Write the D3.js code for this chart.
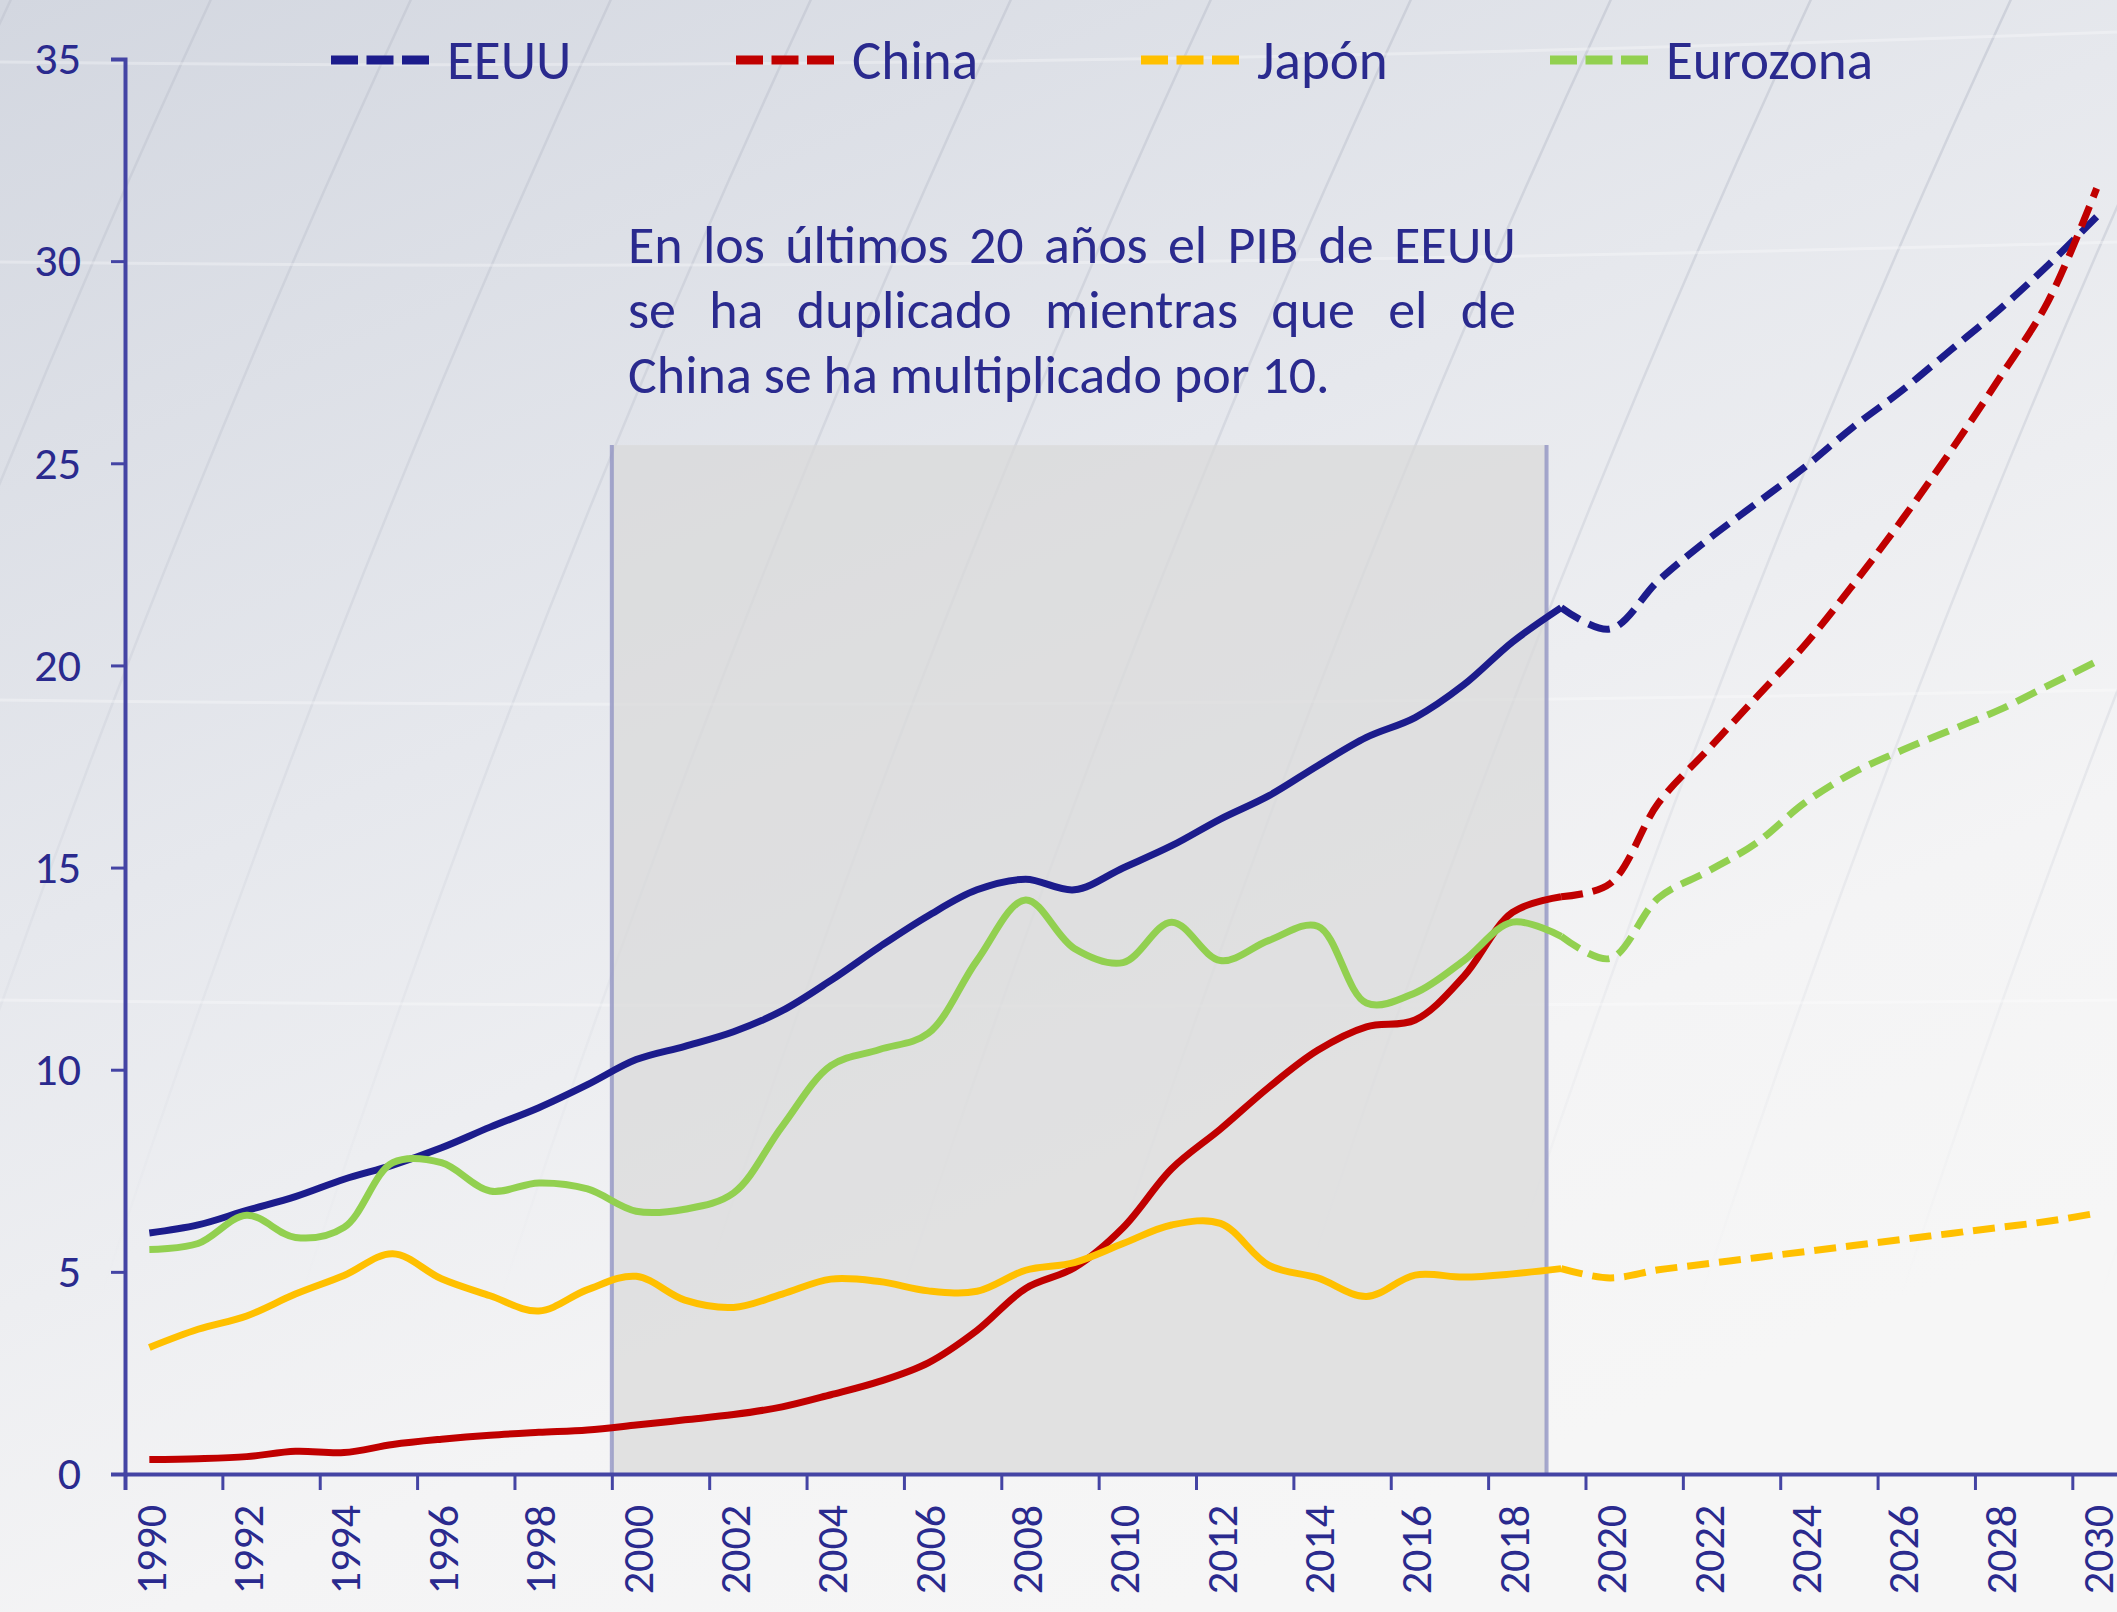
<!DOCTYPE html>
<html>
<head>
<meta charset="utf-8">
<script src="https://cdn.jsdelivr.net/npm/d3@7/dist/d3.min.js"></script>
<style>
  html, body { margin: 0; padding: 0; background: #f4f4f6; overflow: hidden; }
  svg { display: block; }
  text { font-family: Carlito, Calibri, Lato, sans-serif; }
</style>
</head>
<body>
<script>
// categories (one per year)
var years = d3.range(1990, 2031);

// PIB (billones de USD)
var eeuu = [5.96, 6.16, 6.52, 6.86, 7.29, 7.64, 8.07, 8.58, 9.06, 9.63,
            10.25, 10.58, 10.94, 11.46, 12.21, 13.04, 13.81, 14.45, 14.71, 14.45,
            14.99, 15.54, 16.20, 16.78, 17.52, 18.22, 18.71, 19.52, 20.58, 21.43,
            20.90, 22.10, 23.10, 24.00, 24.90, 25.90, 26.80, 27.80, 28.80, 29.90, 31.10];
var china = [0.36, 0.38, 0.43, 0.56, 0.53, 0.73, 0.86, 0.96, 1.03, 1.09,
             1.21, 1.34, 1.47, 1.66, 1.96, 2.29, 2.75, 3.55, 4.59, 5.10,
             6.09, 7.55, 8.53, 9.57, 10.48, 11.06, 11.23, 12.31, 13.89, 14.28,
             14.60, 16.60, 17.90, 19.20, 20.50, 22.00, 23.60, 25.30, 27.10, 29.00, 31.80];
var japon = [3.13, 3.58, 3.91, 4.45, 4.91, 5.45, 4.83, 4.41, 4.03, 4.56,
             4.89, 4.30, 4.12, 4.45, 4.82, 4.76, 4.53, 4.52, 5.04, 5.23,
             5.70, 6.16, 6.20, 5.16, 4.85, 4.39, 4.92, 4.87, 4.95, 5.08,
             4.85, 5.05, 5.20, 5.35, 5.50, 5.65, 5.80, 5.95, 6.10, 6.25, 6.45];
var eurozona = [5.55, 5.70, 6.40, 5.85, 6.10, 7.70, 7.70, 7.00, 7.20, 7.05,
                6.50, 6.55, 6.95, 8.60, 10.10, 10.50, 10.90, 12.70, 14.20, 13.00,
                12.65, 13.65, 12.70, 13.20, 13.55, 11.65, 11.90, 12.70, 13.65, 13.30,
                12.75, 14.25, 14.90, 15.60, 16.60, 17.35, 17.90, 18.40, 18.90, 19.50, 20.10];

var seriesNames = ["EEUU", "China", "Japón", "Eurozona"];
var seriesColors = ["#1c1c8c", "#c00000", "#ffc000", "#92d050"];
var seriesValues = [eeuu, china, japon, eurozona];
var lastActual = 2019;          // solid up to here, dashed after

var yTicks = [0, 5, 10, 15, 20, 25, 30, 35];
var xLabels = d3.range(1990, 2031, 2);
var shadeYears = [1999.5, 2018.7];
var shadeTop = 25.45;

var noteLines = ["En los últimos 20 años el PIB de EEUU",
                 "se ha duplicado mientras que el de",
                 "China se ha multiplicado por 10."];

var W = 2117, H = 1612;
var axisColor = "#4444a4";
var textColor = "#2a2a8e";

var svg = d3.select("body").append("svg")
    .attr("width", W)
    .attr("height", H);

var defs = svg.append("defs");
var bg = defs.append("linearGradient").attr("id", "bg")
    .attr("x1", 0).attr("y1", 0).attr("x2", 0.55).attr("y2", 1);
bg.append("stop").attr("offset", 0).attr("stop-color", "#d3d7e0");
bg.append("stop").attr("offset", 0.45).attr("stop-color", "#e6e8ed");
bg.append("stop").attr("offset", 0.8).attr("stop-color", "#f4f4f5");
bg.append("stop").attr("offset", 1).attr("stop-color", "#f6f6f6");

var fade = defs.append("linearGradient").attr("id", "fade")
    .attr("gradientUnits", "userSpaceOnUse")
    .attr("x1", 0).attr("y1", 0).attr("x2", 0).attr("y2", 1300);
fade.append("stop").attr("offset", 0).attr("stop-color", "#c4c8d3").attr("stop-opacity", 0.7);
fade.append("stop").attr("offset", 1).attr("stop-color", "#c4c8d3").attr("stop-opacity", 0);

svg.append("rect")
    .attr("width", W).attr("height", H)
    .attr("fill", "url(#bg)");

// decorative swooshes of the slide background
var swoosh = svg.append("g").attr("fill", "none");
d3.range(16).forEach(function (i) {
    var x0 = -500 + i * 200;
    swoosh.append("path")
        .attr("d", "M" + x0 + ",1300 Q" + (x0 + 230) + ",600 " + (x0 + 520) + ",-20")
        .attr("stroke", "url(#fade)")
        .attr("stroke-width", 2.5);
});
[62, 262, 700, 1000].forEach(function (yy, i) {
    swoosh.append("path")
        .attr("d", "M0," + yy + " Q1000," + (yy + 12) + " 2117," + (yy - 30 + i * 10))
        .attr("stroke", "#ffffff")
        .attr("stroke-opacity", 0.3)
        .attr("stroke-width", 3);
});

var x = d3.scaleLinear().domain([1989.5, 2030.5]).range([125, 2121]);
var y = d3.scaleLinear().domain([0, 35]).range([1474, 59]);

// shaded period
svg.append("rect")
    .attr("x", x(shadeYears[0]))
    .attr("y", y(shadeTop))
    .attr("width", x(shadeYears[1]) - x(shadeYears[0]))
    .attr("height", y(0) - y(shadeTop))
    .attr("fill", "#d9d9d9")
    .attr("fill-opacity", 0.7);
shadeYears.forEach(function (yr) {
    svg.append("line")
        .attr("x1", x(yr)).attr("x2", x(yr))
        .attr("y1", y(shadeTop)).attr("y2", y(0))
        .attr("stroke", "#8c8fc0")
        .attr("stroke-opacity", 0.75)
        .attr("stroke-width", 4);
});

// annotation, justified like the original text box
var noteSize = 54;
var note = svg.append("g").attr("fill", textColor).style("font-size", noteSize + "px");
var noteLeft = 628, noteRight = 1516, noteTop = 263, noteStep = 65;
noteLines.forEach(function (line, i) {
    var words = line.split(" ");
    var base = noteTop + i * noteStep;
    var nodes = words.map(function (w) {
        return note.append("text").attr("y", base).text(w);
    });
    var widths = nodes.map(function (n) { return n.node().getComputedTextLength(); });
    var gap;
    if (i < noteLines.length - 1) {
        gap = (noteRight - noteLeft - d3.sum(widths)) / (words.length - 1);
    } else {
        gap = noteSize * 0.22;
    }
    var cx = noteLeft;
    nodes.forEach(function (n, k) {
        n.attr("x", cx);
        cx += widths[k] + gap;
    });
});

// axes
var yAxis = svg.append("g")
    .attr("transform", "translate(" + x(1989.5) + ",0)")
    .call(d3.axisLeft(y).tickValues(yTicks).tickSize(14).tickPadding(30));
var xAxis = svg.append("g")
    .attr("transform", "translate(0," + y(0) + ")")
    .call(d3.axisBottom(x).tickValues(d3.range(1989.5, 2030, 2)).tickSize(16).tickFormat(""));
var xLab = svg.append("g")
    .attr("transform", "translate(0," + y(0) + ")")
    .call(d3.axisBottom(x).tickValues(xLabels).tickSize(0).tickFormat(d3.format("d")));
xLab.select(".domain").remove();
xLab.selectAll("text")
    .attr("transform", "rotate(-90)")
    .attr("text-anchor", "end")
    .attr("x", -31)
    .attr("y", 0)
    .attr("dy", "0.36em");

[yAxis, xAxis].forEach(function (g) {
    g.select(".domain").attr("stroke", axisColor).attr("stroke-width", 4);
    g.selectAll(".tick line").attr("stroke", axisColor).attr("stroke-width", 3);
});
yAxis.selectAll("text")
    .attr("fill", textColor)
    .style("font-size", "46px")
    .style("font-family", "Carlito, Calibri, Lato, sans-serif");
xLab.selectAll("text")
    .attr("fill", textColor)
    .style("font-size", "44px")
    .style("font-family", "Carlito, Calibri, Lato, sans-serif");

// series lines
var line = d3.line()
    .x(function (d) { return x(d.year); })
    .y(function (d) { return y(d.value); })
    .curve(d3.curveCatmullRom.alpha(0.5));

var plot = svg.append("g").attr("fill", "none").attr("stroke-width", 7);
seriesValues.forEach(function (vals, s) {
    var pts = years.map(function (yr, i) { return {year: yr, value: vals[i]}; });
    plot.append("path")
        .datum(pts.filter(function (d) { return d.year <= lastActual; }))
        .attr("d", line)
        .attr("stroke", seriesColors[s]);
    plot.append("path")
        .datum(pts.filter(function (d) { return d.year >= lastActual; }))
        .attr("d", line)
        .attr("stroke", seriesColors[s])
        .attr("stroke-dasharray", "22,10");
});

// legend
var legend = svg.append("g").style("font-size", "55px");
var legendX = [331, 736, 1141, 1550];
seriesNames.forEach(function (name, s) {
    var g = legend.append("g").attr("transform", "translate(" + legendX[s] + ",60)");
    g.append("line")
        .attr("x1", 0).attr("x2", 98)
        .attr("stroke", seriesColors[s])
        .attr("stroke-width", 9)
        .attr("stroke-dasharray", "27,8.5");
    g.append("text")
        .attr("x", 116)
        .attr("dy", "0.35em")
        .attr("fill", textColor)
        .text(name);
});
</script>
</body>
</html>
